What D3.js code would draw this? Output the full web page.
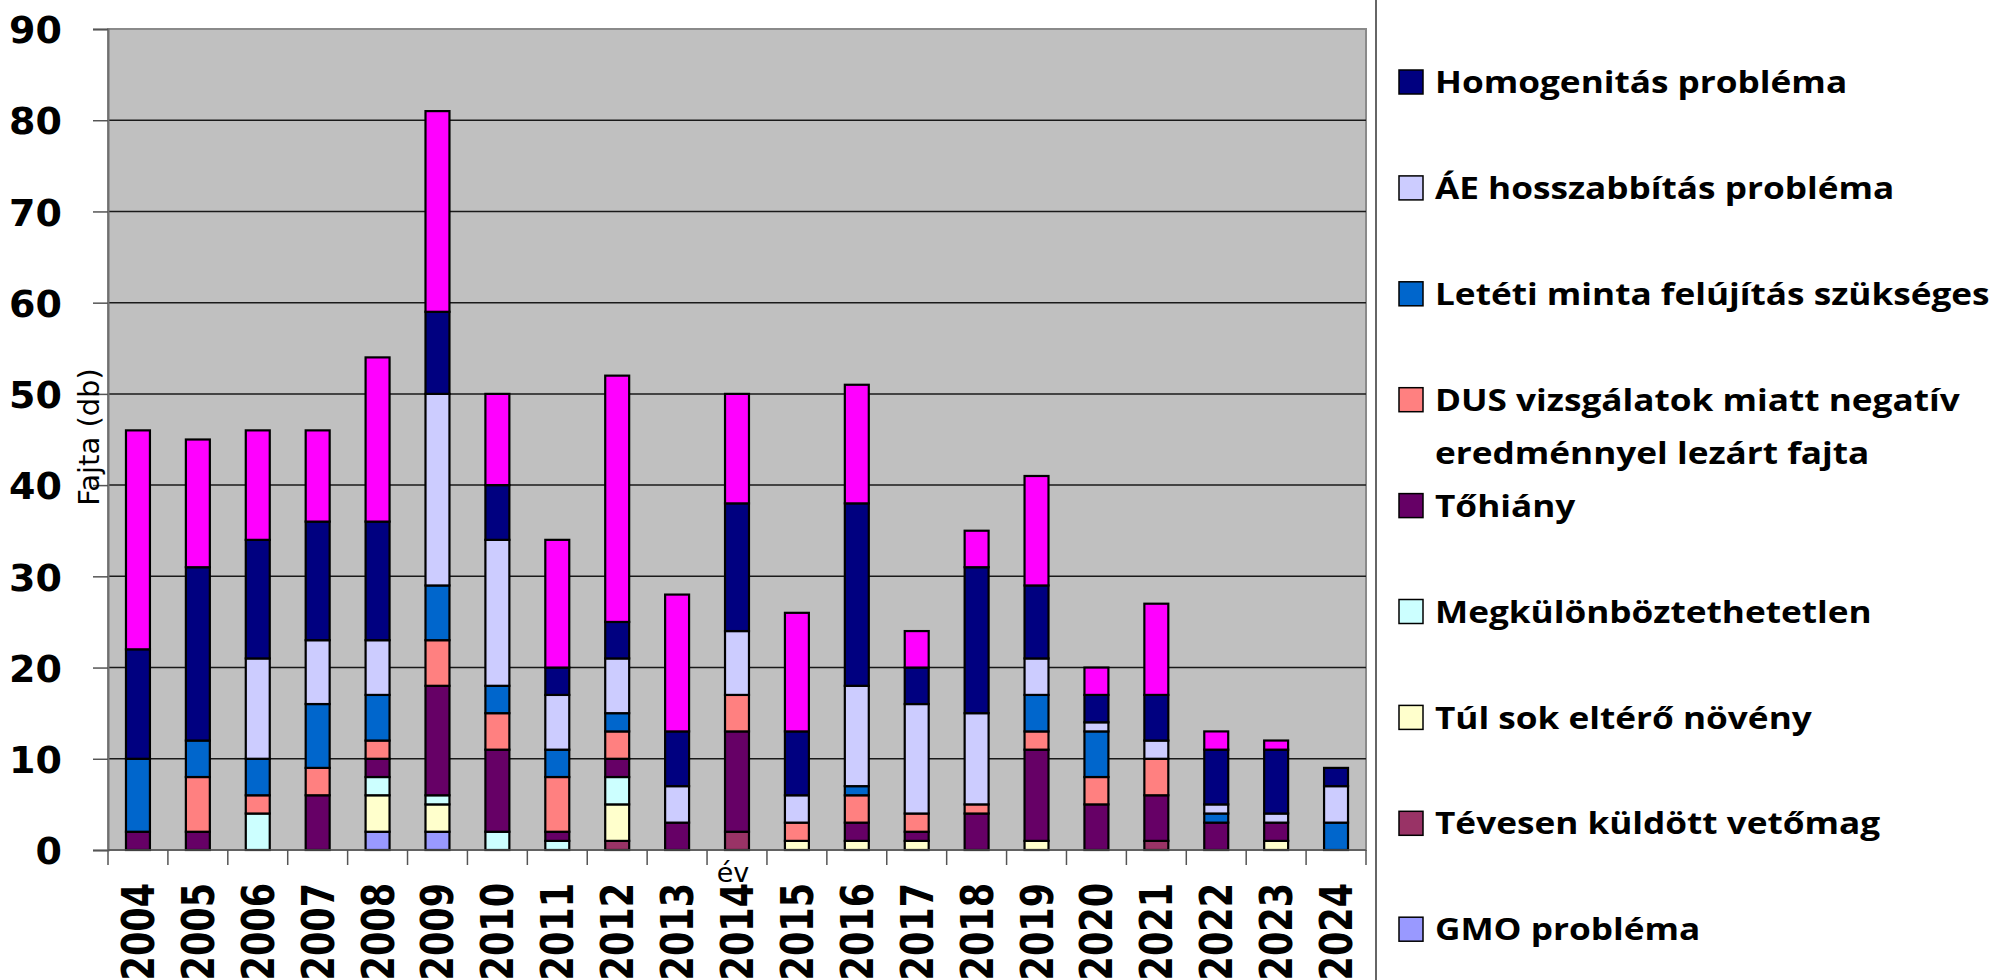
<!DOCTYPE html>
<html>
<head>
<meta charset="utf-8">
<title>Fajta (db) évenként</title>
<script src="https://cdn.jsdelivr.net/npm/d3@7"></script>
<style>
  body { margin: 0; background: #fff; }
  svg { display: block; }
</style>
</head>
<body>
<script>
// evek
var years = ['2004','2005','2006','2007','2008','2009','2010','2011','2012','2013','2014',
             '2015','2016','2017','2018','2019','2020','2021','2022','2023','2024'];

// sorozatok alulrol felfele
var gmo     = [0,0,0,0,2,2,0,0,0,0,0,0,0,0,0,0,0,0,0,0,0];
var teves   = [0,0,0,0,0,0,0,0,1,0,2,0,0,0,0,0,0,1,0,0,0];
var tulsok  = [0,0,0,0,4,3,0,0,4,0,0,1,1,1,0,1,0,0,0,1,0];
var megkul  = [0,0,4,0,2,1,2,1,3,0,0,0,0,0,0,0,0,0,0,0,0];
var tohiany = [2,2,0,6,2,12,9,1,2,3,11,0,2,1,4,10,5,5,3,2,0];
var dus     = [0,6,2,3,2,5,4,6,3,0,4,2,3,2,1,2,3,4,0,0,0];
var leteti  = [8,4,4,7,5,6,3,3,2,0,0,0,1,0,0,4,5,0,1,0,3];
var ae      = [0,0,11,7,6,21,16,6,6,4,7,3,11,12,10,4,1,2,1,1,4];
var homog   = [12,19,13,13,13,9,6,3,4,6,14,7,20,4,16,8,3,5,6,7,2];
var egyeb   = [24,14,12,10,18,22,10,14,27,15,12,13,13,4,4,12,3,10,2,1,0];

var yTicks = [0,10,20,30,40,50,60,70,80,90];

var series = [
  {key: 'gmo',     name: ['GMO probléma'],                     color: '#9999FF', values: gmo},
  {key: 'teves',   name: ['Tévesen küldött vetőmag'],          color: '#993366', values: teves},
  {key: 'tulsok',  name: ['Túl sok eltérő növény'],            color: '#FFFFCC', values: tulsok},
  {key: 'megkul',  name: ['Megkülönböztethetetlen'],           color: '#CCFFFF', values: megkul},
  {key: 'tohiany', name: ['Tőhiány'],                          color: '#660066', values: tohiany},
  {key: 'dus',     name: ['DUS vizsgálatok miatt negatív', 'eredménnyel lezárt fajta'], color: '#FF8080', values: dus},
  {key: 'leteti',  name: ['Letéti minta felújítás szükséges'], color: '#0066CC', values: leteti},
  {key: 'ae',      name: ['ÁE hosszabbítás probléma'],         color: '#CCCCFF', values: ae},
  {key: 'homog',   name: ['Homogenitás probléma'],             color: '#000080', values: homog},
  {key: 'egyeb',   name: null,                                 color: '#FF00FF', values: egyeb}
];

var W = 1998, H = 980;
var plot = {left: 108, right: 1366, top: 29, bottom: 850};

var svg = d3.select('body').append('svg')
    .attr('width', W)
    .attr('height', H);

var x = d3.scaleBand()
    .domain(years)
    .range([plot.left, plot.right])
    .padding(0);

var y = d3.scaleLinear()
    .domain([0, 90])
    .range([plot.bottom, plot.top]);

var rows = years.map(function (yr, i) {
    var r = {year: yr};
    series.forEach(function (s) { r[s.key] = s.values[i]; });
    return r;
});
var stacked = d3.stack().keys(series.map(function (s) { return s.key; }))(rows);

// plot area
svg.append('rect')
    .attr('x', plot.left).attr('y', plot.top)
    .attr('width', plot.right - plot.left)
    .attr('height', plot.bottom - plot.top)
    .attr('fill', '#C0C0C0')
    .attr('stroke', '#8a8a8a')
    .attr('stroke-width', 2);

// gridlines
svg.append('g')
    .selectAll('line')
    .data(yTicks.filter(function (t) { return t > 0 && t < 90; }))
    .enter().append('line')
    .attr('x1', plot.left).attr('x2', plot.right)
    .attr('y1', function (d) { return y(d); })
    .attr('y2', function (d) { return y(d); })
    .attr('stroke', '#1a1a1a')
    .attr('stroke-width', 1.5);

// bars
var barW = x.bandwidth() * 0.4;
svg.append('g')
    .selectAll('g')
    .data(stacked)
    .enter().append('g')
    .attr('fill', function (d, i) { return series[i].color; })
    .selectAll('rect')
    .data(function (d) { return d.filter(function (p) { return p[1] - p[0] > 0; }); })
    .enter().append('rect')
    .attr('x', function (d) { return x(d.data.year) + (x.bandwidth() - barW) / 2; })
    .attr('y', function (d) { return y(d[1]); })
    .attr('width', barW)
    .attr('height', function (d) { return y(d[0]) - y(d[1]); })
    .attr('stroke', '#000')
    .attr('stroke-width', 2.2);

// y axis
var yAxis = svg.append('g')
    .attr('transform', 'translate(' + plot.left + ',0)')
    .call(d3.axisLeft(y).tickValues(yTicks).tickSize(15).tickFormat(d3.format('d')));
yAxis.select('.domain').attr('stroke', '#707070').attr('stroke-width', 2);
yAxis.selectAll('.tick line').attr('stroke', '#555').attr('stroke-width', 1.5);
yAxis.selectAll('.tick text')
    .attr('x', -46)
    .attr('dy', '0.36em')
    .style('font-family', '"DejaVu Sans", sans-serif')
    .style('font-weight', 'bold')
    .style('font-size', '38px')
    .attr('fill', '#000');

// x axis: category boundary ticks
var bounds = years.map(function (yr) { return x(yr); }).concat([plot.right]);
svg.append('line')
    .attr('x1', plot.left).attr('x2', plot.right)
    .attr('y1', plot.bottom).attr('y2', plot.bottom)
    .attr('stroke', '#555').attr('stroke-width', 1.5);
svg.append('g')
    .selectAll('line')
    .data(bounds)
    .enter().append('line')
    .attr('x1', function (d) { return d; }).attr('x2', function (d) { return d; })
    .attr('y1', plot.bottom).attr('y2', plot.bottom + 15)
    .attr('stroke', '#555').attr('stroke-width', 1.5);

svg.append('g')
    .selectAll('text')
    .data(years)
    .enter().append('text')
    .attr('transform', function (d) {
        return 'translate(' + (x(d) + x.bandwidth() / 2) + ',' + 883 + ') scale(1.27,1) rotate(-90)';
    })
    .attr('text-anchor', 'end')
    .attr('dy', '0.36em')
    .style('font-family', '"DejaVu Sans", sans-serif')
    .style('font-weight', 'bold')
    .style('font-size', '35px')
    .text(function (d) { return d; });

// axis titles
svg.append('text')
    .attr('transform', 'translate(99,437) rotate(-90)')
    .attr('text-anchor', 'middle')
    .style('font-family', '"DejaVu Sans", sans-serif')
    .style('font-size', '29px')
    .text('Fajta (db)');

svg.append('text')
    .attr('x', 733).attr('y', 882)
    .attr('text-anchor', 'middle')
    .style('font-family', '"DejaVu Sans", sans-serif')
    .style('font-size', '27px')
    .text('év');

// legend separator
svg.append('line')
    .attr('x1', 1376).attr('x2', 1376)
    .attr('y1', 0).attr('y2', H)
    .attr('stroke', '#333').attr('stroke-width', 1.5);

// legend (top to bottom, magenta series has no entry)
var legendItems = series.filter(function (s) { return s.name; }).reverse();
var slotH = 105.9;
var legend = svg.append('g').attr('transform', 'translate(1399,82)');
var item = legend.selectAll('g')
    .data(legendItems)
    .enter().append('g')
    .attr('transform', function (d, i) { return 'translate(0,' + (i * slotH) + ')'; });
item.append('rect')
    .attr('x', 0).attr('y', -12)
    .attr('width', 24).attr('height', 24)
    .attr('fill', function (d) { return d.color; })
    .attr('stroke', '#000').attr('stroke-width', 1.5);
item.append('g')
    .attr('transform', 'translate(36,0) scale(1.135,1)')
    .selectAll('text')
    .data(function (d) { return d.name; })
    .enter().append('text')
    .attr('x', 0)
    .attr('y', function (d, i) { return i * 53; })
    .attr('dy', '0.36em')
    .style('font-family', '"Open Sans", sans-serif')
    .style('font-weight', 'bold')
    .style('font-size', '31px')
    .text(function (d) { return d; });
</script>
</body>
</html>
